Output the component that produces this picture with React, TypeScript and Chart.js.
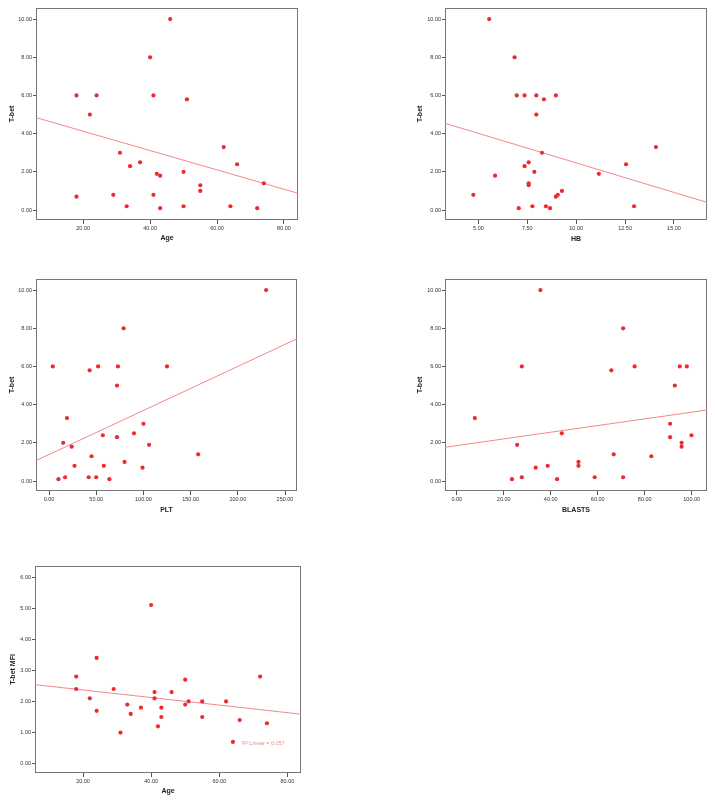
import { useEffect, useRef } from "react";
import { Chart, registerables } from "chart.js";

Chart.register(...registerables);

// ---- Data: T-bet against clinical variables ----
const ageValues = [18, 18, 22, 24, 29, 31, 33, 34, 37, 40, 41, 41, 42, 43, 43, 46, 50, 50, 51, 55, 55, 62, 64, 66, 72, 74];
const tbetByAge = [6, 0.7, 5, 6, 0.8, 3, 0.2, 2.3, 2.5, 8, 6, 0.8, 1.9, 1.8, 0.1, 10, 2, 0.2, 5.8, 1.3, 1.0, 3.3, 0.2, 2.4, 0.1, 1.4];

const hbValues = [5.55, 6.85, 6.96, 7.36, 7.96, 8.35, 8.96, 7.96, 8.25, 7.57, 7.36, 7.86, 5.85, 11.16, 12.55, 14.08, 7.57, 7.57, 9.27, 9.06, 8.96, 4.74, 7.06, 7.76, 8.45, 8.66, 12.96];
const tbetByHb = [10, 8, 6, 6, 6, 5.8, 6, 5, 3, 2.5, 2.3, 2, 1.8, 1.9, 2.4, 3.3, 1.4, 1.3, 1.0, 0.8, 0.7, 0.8, 0.1, 0.2, 0.2, 0.1, 0.2];

const pltValues = [230, 79, 4, 43, 52, 73, 125, 72, 19, 100, 15, 24, 57, 72, 90, 106, 158, 45, 80, 27, 58, 99, 10, 17, 42, 50, 64];
const tbetByPlt = [10, 8, 6, 5.8, 6, 6, 6, 5, 3.3, 3, 2, 1.8, 2.4, 2.3, 2.5, 1.9, 1.4, 1.3, 1.0, 0.8, 0.8, 0.7, 0.1, 0.2, 0.2, 0.2, 0.1];

const blastValues = [35.6, 70.8, 27.7, 65.8, 75.7, 94.9, 97.9, 92.8, 7.7, 90.8, 90.8, 44.7, 25.7, 95.7, 95.7, 99.9, 66.8, 82.8, 51.8, 51.8, 38.7, 33.6, 23.5, 27.7, 42.7, 58.7, 70.8];
const tbetByBlasts = [10, 8, 6, 5.8, 6, 6, 6, 5, 3.3, 3, 2.3, 2.5, 1.9, 2, 1.8, 2.4, 1.4, 1.3, 1.0, 0.8, 0.8, 0.7, 0.1, 0.2, 0.1, 0.2, 0.2];

const ageMfiValues = [40, 24, 18, 18, 22, 24, 29, 31, 33, 34, 37, 41, 41, 42, 43, 43, 46, 50, 50, 51, 55, 55, 62, 64, 66, 72, 74];
const tbetMfiByAge = [5.1, 3.4, 2.8, 2.4, 2.1, 1.7, 2.4, 1.0, 1.9, 1.6, 1.8, 2.3, 2.1, 1.2, 1.8, 1.5, 2.3, 2.7, 1.9, 2.0, 2.0, 1.5, 2.0, 0.7, 1.4, 2.8, 1.3];

// Linear fit lines: [intercept, slope]
const fitAge: [number, number] = [5.14, -0.0506];
const fitHb: [number, number] = [5.56, -0.309];
const fitPlt: [number, number] = [1.388, 0.02307];
const fitBlasts: [number, number] = [1.857, 0.01749];
const fitAgeMfi: [number, number] = [2.612, -0.01216];

// Tick values
const tbetTicks = [0, 2, 4, 6, 8, 10];
const mfiTicks = [0, 1, 2, 3, 4, 5, 6];
const ageTicks = [20, 40, 60, 80];
const hbTicks = [5, 7.5, 10, 12.5, 15];
const pltTicks = [0, 50, 100, 150, 200, 250];
const blastTicks = [0, 20, 40, 60, 80, 100];

const FONT = 'Arial, "Liberation Sans", Helvetica, sans-serif';
const POINT_RED = "#ee2a30";
const FIT_RED = "#f28888";
const FRAME = "#777777";

type PanelSpec = {
  xs: number[];
  ys: number[];
  fit: [number, number];
  xRange: [number, number];
  yRange: [number, number];
  xTicks: number[];
  yTicks: number[];
  xTitle: string;
  yTitle: string;
  area: [number, number, number, number]; // left, top, right, bottom on the page
  yTitleX: number;
  xTitleY: number;
  note?: string;
  noteAt?: [number, number];
};

const panels: PanelSpec[] = [
  {
    xs: ageValues, ys: tbetByAge, fit: fitAge,
    xRange: [5.9, 84.2], yRange: [-0.52, 10.58],
    xTicks: ageTicks, yTicks: tbetTicks, xTitle: "Age", yTitle: "T-bet",
    area: [36, 8, 298, 220], yTitleX: 12, xTitleY: 238,
  },
  {
    xs: hbValues, ys: tbetByHb, fit: fitHb,
    xRange: [3.29, 16.69], yRange: [-0.52, 10.58],
    xTicks: hbTicks, yTicks: tbetTicks, xTitle: "HB", yTitle: "T-bet",
    area: [445, 8, 707, 220], yTitleX: 420, xTitleY: 239,
  },
  {
    xs: pltValues, ys: tbetByPlt, fit: fitPlt,
    xRange: [-13.8, 262.7], yRange: [-0.52, 10.58],
    xTicks: pltTicks, yTicks: tbetTicks, xTitle: "PLT", yTitle: "T-bet",
    area: [36, 279, 297, 491], yTitleX: 12, xTitleY: 510,
  },
  {
    xs: blastValues, ys: tbetByBlasts, fit: fitBlasts,
    xRange: [-5.0, 106.5], yRange: [-0.52, 10.58],
    xTicks: blastTicks, yTicks: tbetTicks, xTitle: "BLASTS", yTitle: "T-bet",
    area: [445, 279, 707, 491], yTitleX: 420, xTitleY: 510,
  },
  {
    xs: ageMfiValues, ys: tbetMfiByAge, fit: fitAgeMfi,
    xRange: [5.9, 84.0], yRange: [-0.3, 6.354],
    xTicks: ageTicks, yTicks: mfiTicks, xTitle: "Age", yTitle: "T-bet MFI",
    area: [35, 566, 301, 773], yTitleX: 13, xTitleY: 791,
    note: "R\u00B2 Linear = 0.057", noteAt: [242, 743],
  },
];

const TITLE_SIZE = 7;
const TITLE_HALF_LINE = (TITLE_SIZE * 1.2) / 2;

function ScatterPanel({ spec }: { spec: PanelSpec }) {
  const ref = useRef<HTMLCanvasElement | null>(null);
  const [l, t, r, b] = spec.area;
  const cLeft = Math.max(0, l - 35);
  const cTop = t - 8;
  const cWidth = r - cLeft + 10;
  const cHeight = b - cTop + 32;
  const leftBand = l - cLeft;
  const bottomBand = cTop + cHeight - b;

  useEffect(() => {
    if (!ref.current) return;
    const [x0, x1] = spec.xRange;
    const [a, s] = spec.fit;

    const framePlugin = {
      id: "panelFrame",
      beforeDatasetsDraw(chart: any) {
        const { ctx, chartArea } = chart;
        ctx.save();
        ctx.strokeStyle = FRAME;
        ctx.lineWidth = 1;
        ctx.strokeRect(
          Math.round(chartArea.left) + 0.5,
          Math.round(chartArea.top) + 0.5,
          Math.round(chartArea.right - chartArea.left) - 1,
          Math.round(chartArea.bottom - chartArea.top) - 1
        );
        ctx.restore();
      },
      afterDraw(chart: any) {
        if (!spec.note || !spec.noteAt) return;
        const { ctx } = chart;
        ctx.save();
        ctx.fillStyle = FIT_RED;
        ctx.font = `5.5px ${FONT}`;
        ctx.textAlign = "left";
        ctx.textBaseline = "middle";
        ctx.fillText(spec.note, spec.noteAt[0] - cLeft, spec.noteAt[1] - cTop);
        ctx.restore();
      },
    };

    const tickFont = { size: 5.5, family: FONT };
    const titleFont = { size: TITLE_SIZE, family: FONT, weight: "bold" as const };

    const chart = new Chart(ref.current, {
      type: "scatter",
      data: {
        datasets: [
          {
            data: spec.xs.map((x, i) => ({ x, y: spec.ys[i] })),
            pointRadius: 2.1,
            pointBackgroundColor: POINT_RED,
            pointBorderWidth: 0,
            pointBorderColor: POINT_RED,
            order: 0,
          },
          {
            data: [
              { x: x0, y: a + s * x0 },
              { x: x1, y: a + s * x1 },
            ],
            showLine: true,
            borderColor: FIT_RED,
            borderWidth: 1,
            pointRadius: 0,
            order: 1,
          },
        ],
      },
      options: {
        animation: false,
        responsive: false,
        events: [],
        layout: {
          padding: { left: 0, top: t - cTop, right: cLeft + cWidth - r, bottom: 0 },
        },
        plugins: { legend: { display: false }, tooltip: { enabled: false } },
        scales: {
          x: {
            type: "linear",
            min: spec.xRange[0],
            max: spec.xRange[1],
            afterBuildTicks: (sc: any) => {
              sc.ticks = spec.xTicks.map((v) => ({ value: v }));
            },
            afterFit: (sc: any) => {
              sc.height = bottomBand;
            },
            grid: { drawOnChartArea: false, drawTicks: true, tickLength: 4, color: "#555", tickColor: "#555" },
            border: { display: false },
            ticks: {
              font: tickFont,
              color: "#333",
              padding: 1,
              maxRotation: 0,
              autoSkip: false,
              callback: (v: any) => Number(v).toFixed(2),
            },
            title: {
              display: true,
              text: spec.xTitle,
              color: "#222",
              font: titleFont,
              padding: { top: 0, bottom: cTop + cHeight - spec.xTitleY - TITLE_HALF_LINE },
            },
          },
          y: {
            type: "linear",
            min: spec.yRange[0],
            max: spec.yRange[1],
            afterBuildTicks: (sc: any) => {
              sc.ticks = spec.yTicks.map((v) => ({ value: v }));
            },
            afterFit: (sc: any) => {
              sc.width = leftBand;
            },
            grid: { drawOnChartArea: false, drawTicks: true, tickLength: 3, color: "#555", tickColor: "#555" },
            border: { display: false },
            ticks: {
              font: tickFont,
              color: "#333",
              padding: 1,
              autoSkip: false,
              callback: (v: any) => Number(v).toFixed(2),
            },
            title: {
              display: true,
              text: spec.yTitle,
              color: "#222",
              font: titleFont,
              padding: { top: spec.yTitleX - cLeft - TITLE_HALF_LINE, bottom: 0 },
            },
          },
        },
      },
      plugins: [framePlugin],
    });
    return () => chart.destroy();
  }, [spec]);

  return (
    <canvas
      ref={ref}
      width={cWidth}
      height={cHeight}
      style={{ position: "absolute", left: cLeft, top: cTop, width: cWidth, height: cHeight }}
    />
  );
}

export default function App() {
  return (
    <div
      style={{
        position: "absolute",
        left: 0,
        top: 0,
        width: 715,
        height: 806,
        background: "#ffffff",
        overflow: "hidden",
      }}
    >
      {panels.map((p, i) => (
        <ScatterPanel key={i} spec={p} />
      ))}
    </div>
  );
}
